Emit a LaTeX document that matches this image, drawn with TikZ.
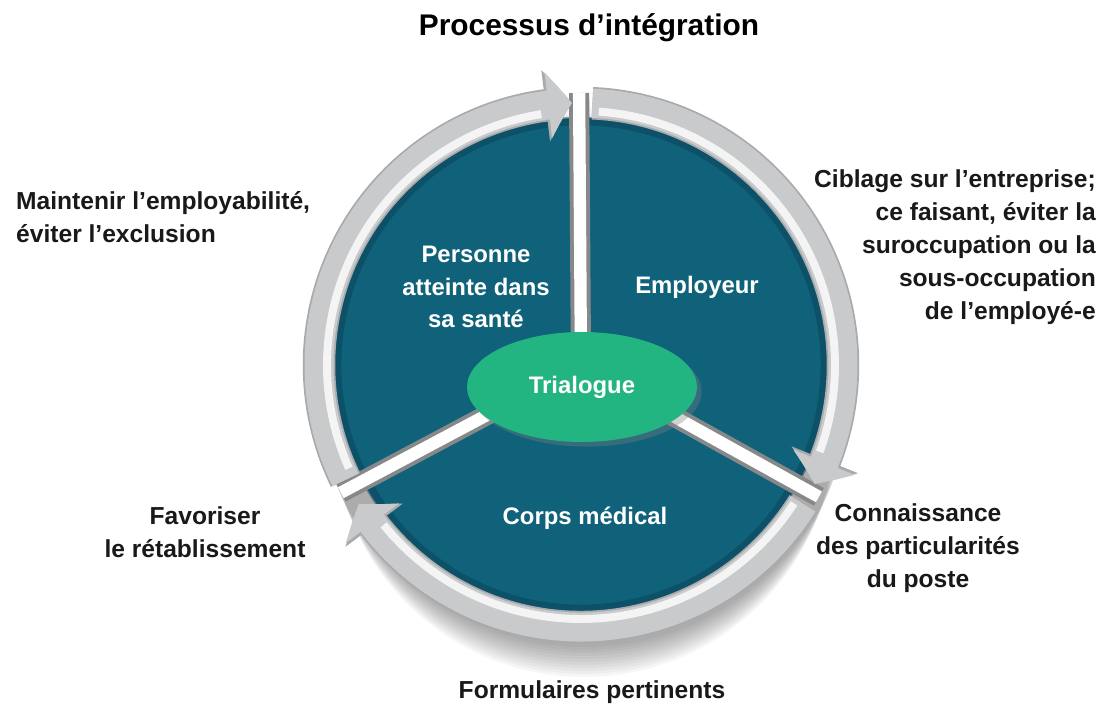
\documentclass[tikz,border=0pt]{standalone}
\usepackage{fontspec}
\setmainfont{Liberation Sans}
\usepackage{tikz}
\usetikzlibrary{positioning,calc,shapes,arrows.meta,bending,shadows}
\definecolor{myteal}{RGB}{16,98,122}
\definecolor{mydark}{RGB}{8,62,80}
\definecolor{mygreen}{RGB}{34,181,129}
\definecolor{myring}{RGB}{200,202,203}
\definecolor{myedge}{RGB}{168,170,173}
\tikzset{
  basic/.style   = {font=\bfseries\fontsize{14}{18.7}\selectfont, align=center},
  inner/.style   = {basic, font=\bfseries\fontsize{13.6}{18.7}\selectfont, text=white},
  outer/.style   = {basic, text=black!90},
  tri/.style     = {inner, ellipse, fill=mygreen, minimum width=4.6cm,
                    minimum height=2.2cm, drop shadow={opacity=0.35}},
  ringedge/.style = {line width=18.5pt, draw=myedge,
                    -{Triangle[width=40pt,length=15pt,bend]}},
  ring/.style    = {line width=16.5pt, draw=myring,
                    -{Triangle[width=37pt,length=13.5pt,bend]}},
  gloss/.style   = {line width=4.5pt, draw=white, opacity=0.8},
  spoke/.style   = {line width=11.5pt, draw=myedge!80!black},
  spokein/.style = {line width=7pt, draw=white}
}

\begin{document}
\begin{tikzpicture}[x=0.02cm,y=0.02cm]
  \useasboundingbox (-581,-341) rectangle (531,365);
  \coordinate (C) at (0,0);
  % soft shadow under the ring
  \foreach \d in {0,...,10}
    \fill[black, opacity=0.035] (3,-12-5*\d) circle (270-2*\d);
  % disc
  \fill[myteal] (C) circle (247);
  \draw[mydark, line width=5pt, opacity=0.45] (C) circle (244);
  % spokes
  \foreach \a/\n in {90.4/s1,208/s2,-29/s3} {
    \coordinate (\n) at (\a:272);
    \draw[spoke] (C) -- (\n);
    \draw[spokein] (C) -- (\n);
  }
  % ring with arrows
  \draw[ringedge] (206:262) arc[start angle=206, end angle=92, radius=262];
  \draw[ringedge] (87.5:262) arc[start angle=87.5, end angle=-27, radius=262];
  \draw[ringedge] (-32:262) arc[start angle=-32, end angle=-148, radius=262];
  \draw[ring] (206:262) arc[start angle=206, end angle=92, radius=262];
  \draw[ring] (87.5:262) arc[start angle=87.5, end angle=-27, radius=262];
  \draw[ring] (-32:262) arc[start angle=-32, end angle=-148, radius=262];
  \draw[gloss] (204:254) arc[start angle=204, end angle=99, radius=254];
  \draw[gloss] (86:254) arc[start angle=86, end angle=-20, radius=254];
  \draw[gloss] (-33:254) arc[start angle=-33, end angle=-141, radius=254];

  \node[tri] (tri) at (1,-22) {Trialogue};

  \node[inner] (pers) at (-105,78) {Personne\\atteinte dans\\sa santé};
  \node[inner] (empl) at (116,78) {Employeur};
  \node[inner] (corps) at (4,-153) {Corps médical};

  \node[basic, font=\bfseries\fontsize{17}{20}\selectfont] (title) at (8,337)
    {Processus d’intégration};
  \node[outer, anchor=west, align=left] (maint) at (-571,148)
    {Maintenir l’employabilité,\\éviter l’exclusion};
  \node[outer, anchor=east, align=right] (cibl) at (521,118)
    {Ciblage sur l’entreprise;\\ce faisant, éviter la\\suroccupation ou la\\sous-occupation\\de l’employé-e};
  \node[outer] (favo) at (-376,-167) {Favoriser\\le rétablissement};
  \node[outer] (conn) at (337,-183) {Connaissance\\des particularités\\du poste};
  \node[outer] (form) at (11,-327) {Formulaires pertinents};
\end{tikzpicture}
\end{document}
